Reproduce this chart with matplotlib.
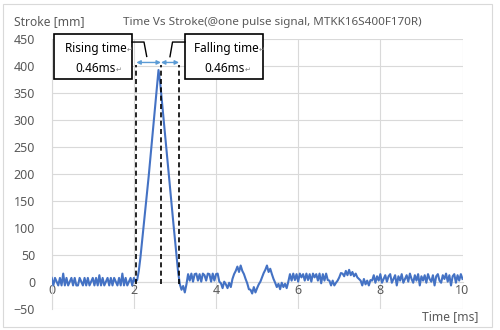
import numpy as np
import matplotlib
matplotlib.use('Agg')
import matplotlib.pyplot as plt
from matplotlib.patches import Rectangle

# stroke [mm], one sample every 0.04 ms from 0 to 10 ms
dt = 0.04
base_before = [7, -7, 7, 0, -7, 7, -7, 15, -7, 7, -7, 0, 7, -7, 7, -7, -7, 7, 0, -7,
               7, -7, 7, -7, 0, 7, -7, 7, -7, 12, -7, 7, -7, 0, 7, -7, 7, -7, 7, 0,
               -7, 7, -7, 15, -7, 7, -7, 0, 7, -7, 7, 0]
rise = [3, 20, 45, 75, 105, 135, 165, 195, 228, 260, 292, 325, 360, 393]
fall = [370, 338, 305, 272, 240, 207, 175, 142, 110, 78, 46, 16, -5, -15, -8, -20, -5]
ring = [14, 2, 15, 0, 14, 15, 2, 14, 0, 15, 12, 2, 15, 14, 0, 15, 2, 14, 15, 0,
        -3, -12, 0, -5, -12, -2, -10,
        5, 14, 20, 28, 18, 30, 20, 14, 5,
        -3, -14, -15, -22, -10, -20, -12, -5, 0,
        8, 16, 22, 30, 18, 24, 14, 5,
        -2, -10, -4, -14, -2, -10, -4, -12, 0,
        14, 2, 15, 3, 14, 0, 15, 8, 14, 2, 15, 3, 14, 0, 15, 8, 14, 2, 15, -3, 14, 2, 15, 3,
        2, -7, 2, -7, -2, 2,
        8, 16, 15, 10, 20, 12, 22, 12, 18, 10, 15, 8, 5,
        2, -7, 5, -5, 2, -7, 3]
base_after = [2, 12, -2, 10, 2, 14, -2, 5, 12, 0, 10, 14, -2, 5, 12, -7, 10, 2, 14, -2,
              5, 12, 0, 15, 5, -2, 12, 2, 14, -7, 10, 2, 12, -2, 14, 5, 0, 12, -7, 10,
              14, 2, -2, 12, 5, 15, 0, 12, -7, 10, 14, -2, 12, 2, 14, 5]

stroke = np.array(base_before + rise + fall + ring + base_after, dtype=float)
time_ms = np.arange(len(stroke)) * dt

# timing marks [ms]
t_start, t_peak, t_end = 2.06, 2.66, 3.10
rise_label = ['Rising time', '0.46ms']
fall_label = ['Falling time', '0.46ms']

gray = '#595959'
grid_c = '#d9d9d9'
blue = '#4472C4'
arrow_c = '#5B9BD5'
font = ['Noto Sans', 'DejaVu Sans']
plt.rcParams['font.family'] = font

fig = plt.figure(figsize=(5, 3.3), dpi=100)
fig.patches.append(Rectangle((3 / 500, 3 / 330), 489 / 500, 323 / 330, transform=fig.transFigure,
                             fill=False, edgecolor=grid_c, lw=0.8))
ax = fig.add_axes([51.7 / 500, 1 - 308.6 / 330, (462.5 - 51.7) / 500, (308.6 - 39.3) / 330])

ax.plot(time_ms, stroke, color=blue, lw=1.5, zorder=3)

ax.set_xlim(0, 10)
ax.set_ylim(-50, 450)
ax.set_xticks(np.arange(0, 11, 2))
ax.set_yticks(np.arange(-50, 451, 50))
ax.grid(True, color=grid_c, lw=0.8)
ax.set_axisbelow(True)
for s in ['top', 'right']:
    ax.spines[s].set_visible(False)
ax.spines['left'].set_color(grid_c)
ax.spines['bottom'].set_color(grid_c)
ax.spines['bottom'].set_position(('data', 0))
ax.tick_params(axis='both', length=0, labelcolor=gray, labelsize=9)
ax.tick_params(axis='y', pad=12)
ax.tick_params(axis='x', pad=2)

fig.text(272 / 500, 1 - 23 / 330, 'Time Vs Stroke(@one pulse signal, MTKK16S400F170R)',
         ha='center', va='center', color=gray, fontsize=8.4)
fig.text(14 / 500, 1 - 22 / 330, 'Stroke [mm]', ha='left', va='center', color=gray, fontsize=8.7)
fig.text(479 / 500, 1 - 317 / 330, 'Time [ms]', ha='right', va='center', color=gray, fontsize=8.7)

# dashed markers
for t in [t_start, t_peak, t_end]:
    ax.plot([t, t], [-5, 403], color='black', lw=1.2, ls=(0, (3, 2)), zorder=4)

# double arrows
for a, b in [(t_start, t_peak), (t_peak, t_end)]:
    ax.annotate('', xy=(a, 407), xytext=(b, 407),
                arrowprops=dict(arrowstyle='<|-|>', color=arrow_c, lw=1.0,
                                mutation_scale=6, shrinkA=0, shrinkB=0), zorder=5)


def callout(x0, x1, lines, tx, tx2, leader):
    ax.add_patch(Rectangle((x0, 376.4), x1 - x0, 459.8 - 376.4, fill=True, facecolor='white',
                           edgecolor='black', lw=1.2, clip_on=False, zorder=6))
    for txt, x, y in [(lines[0], tx, 433.8), (lines[1], tx2, 396.7)]:
        t = ax.text(x, y, txt, ha='left', va='center', fontsize=8.5, color='black',
                    zorder=7, clip_on=False)
        ax.annotate('\u21b5', xy=(1, 0.15), xycoords=t, ha='left', va='bottom',
                    fontsize=5, color='#808080', zorder=7, family=['DejaVu Sans'])
    lx, ly = zip(*leader)
    ax.plot(lx, ly, color='black', lw=1.0, clip_on=False, zorder=6)


callout(0.056, 1.955, rise_label, 0.324, 0.567,
        [(1.955, 444.9), (2.247, 444.9), (2.313, 418.2)])
callout(3.245, 5.144, fall_label, 3.464, 3.708,
        [(3.245, 444.9), (2.941, 444.9), (2.879, 417.7)])

fig.savefig('out.png', dpi=100)
